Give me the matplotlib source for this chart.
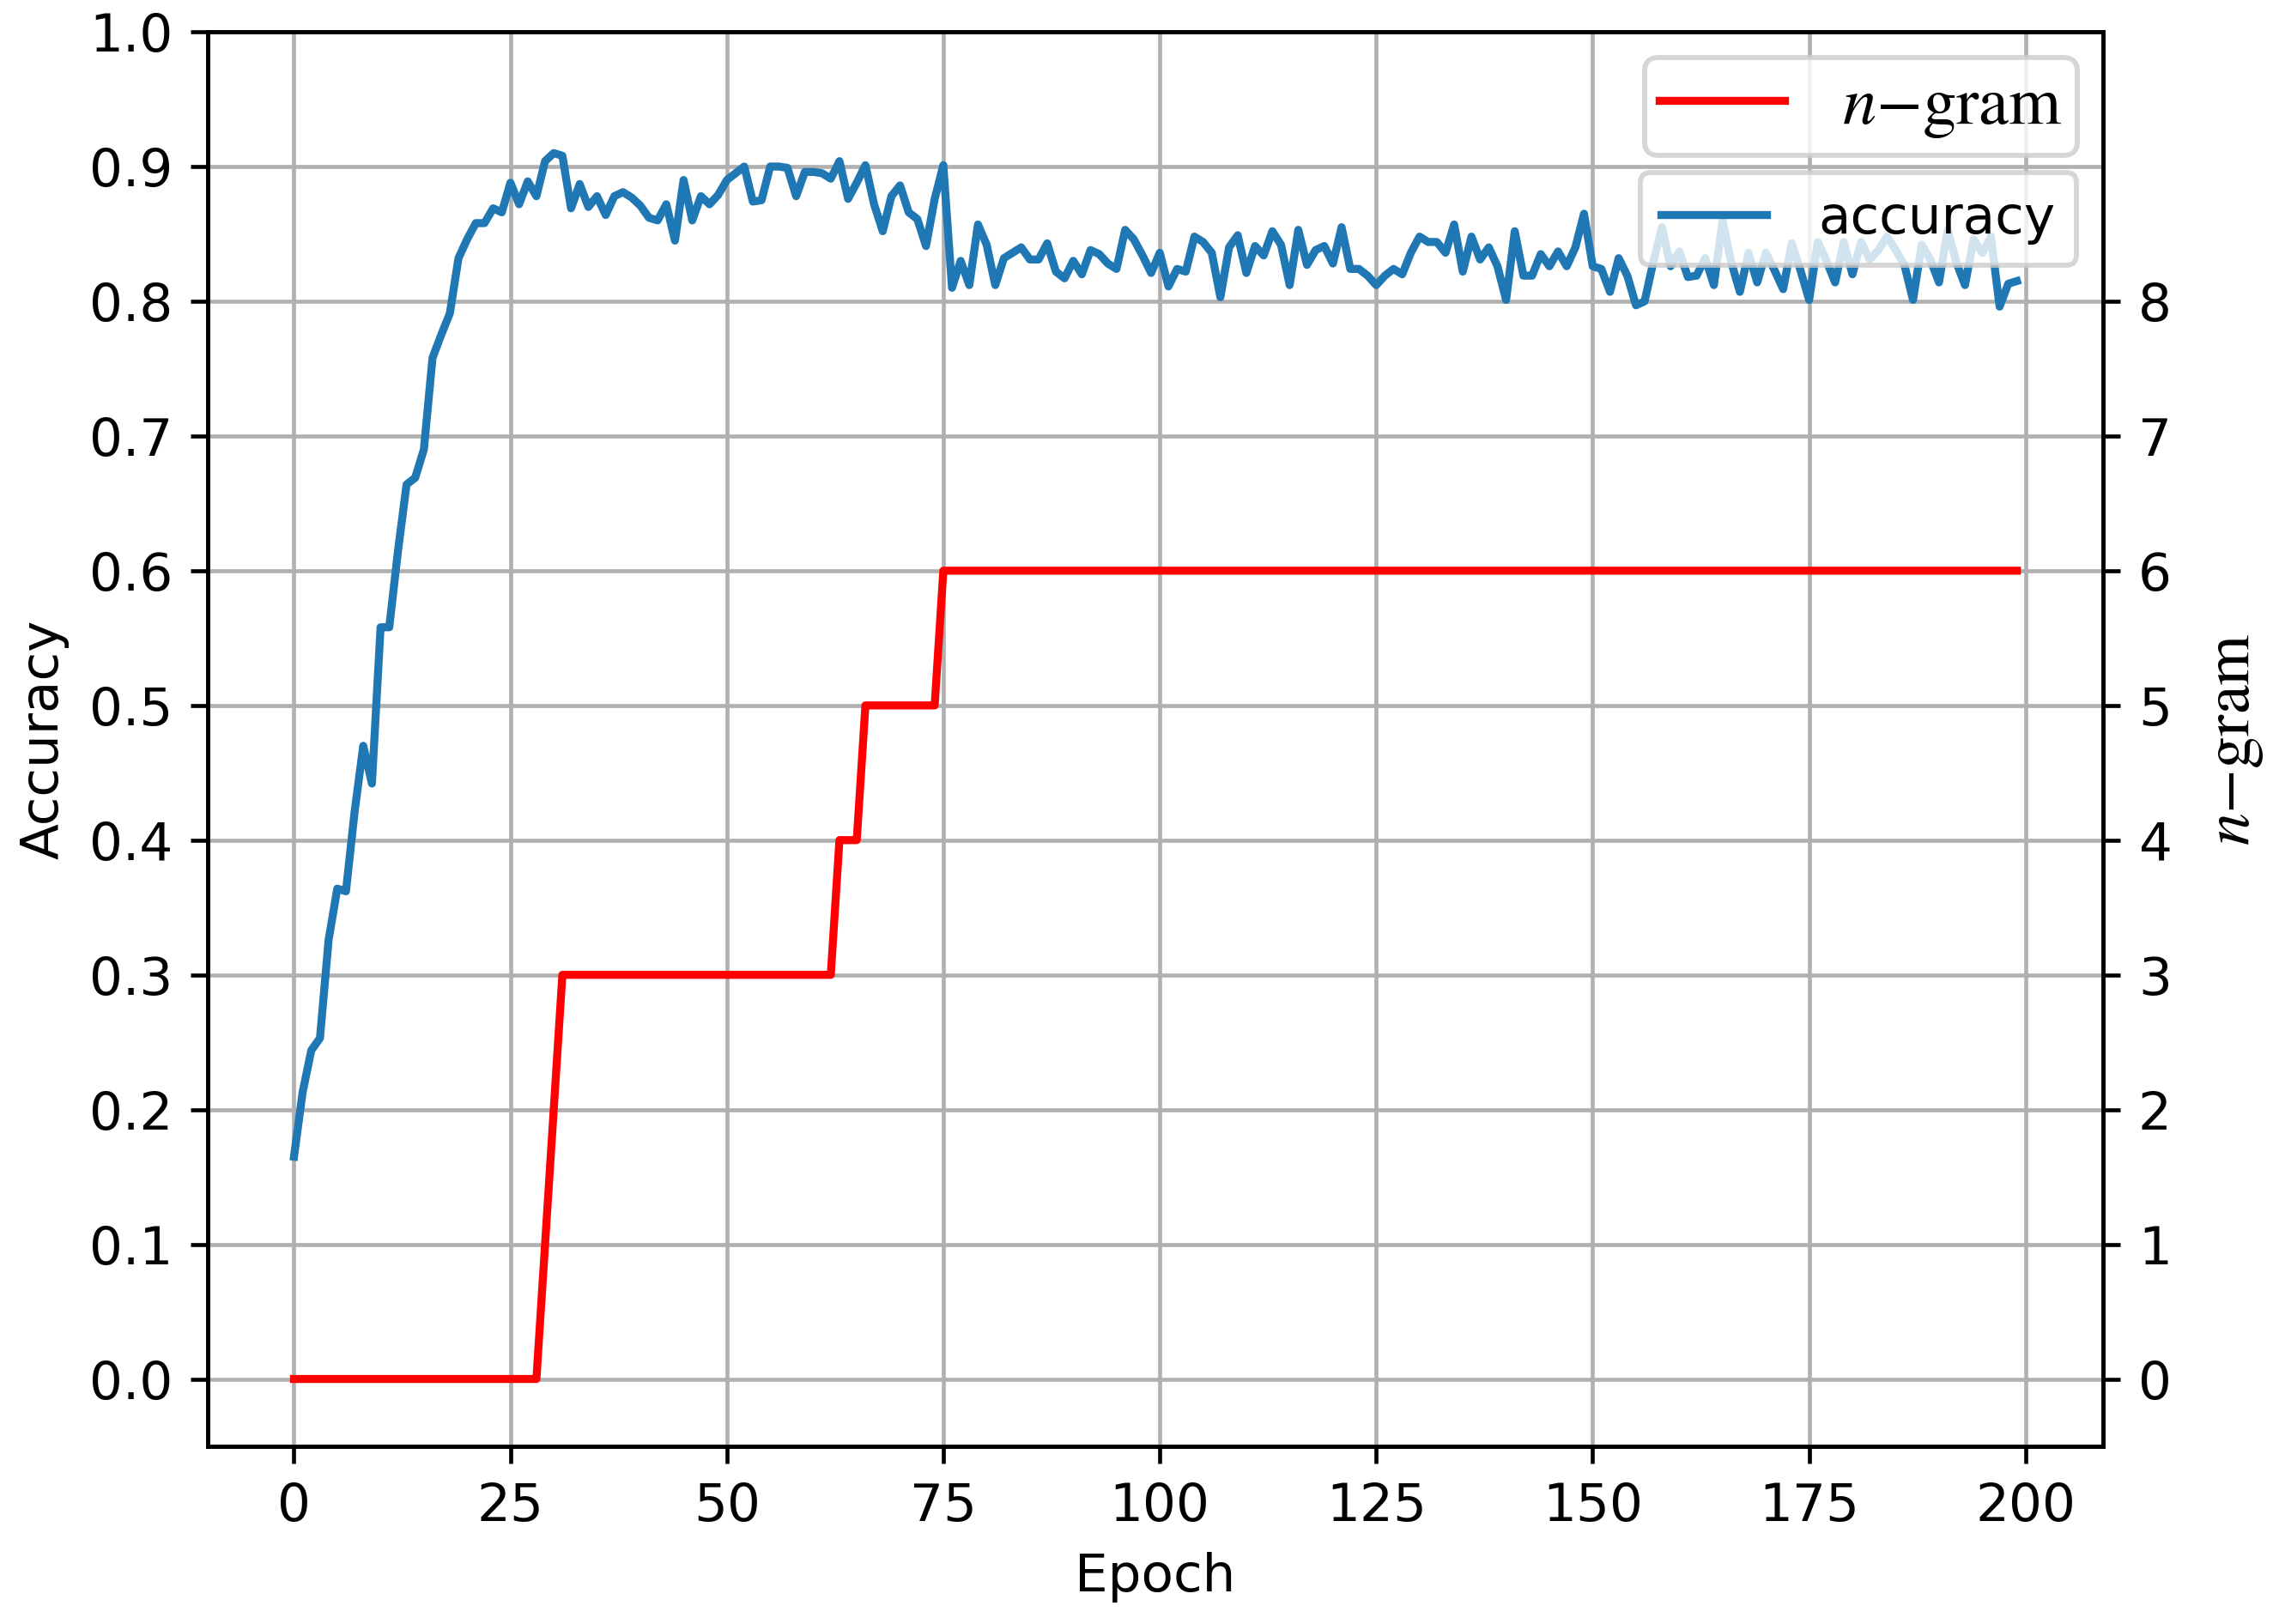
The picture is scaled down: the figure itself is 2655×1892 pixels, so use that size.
import matplotlib
matplotlib.use('Agg')
import matplotlib.pyplot as plt

# accuracy per epoch (0..199)
accuracy = [
    0.165, 0.213, 0.244, 0.253, 0.326, 0.364, 0.362, 0.421, 0.470, 0.442,
    0.558, 0.558, 0.614, 0.664, 0.669, 0.690, 0.758, 0.775, 0.791, 0.832,
    0.846, 0.858, 0.858, 0.869, 0.866, 0.888, 0.872, 0.889, 0.878, 0.904,
    0.910, 0.908, 0.869, 0.887, 0.870, 0.878, 0.864, 0.878, 0.881, 0.877,
    0.871, 0.862, 0.860, 0.872, 0.845, 0.890, 0.860, 0.878, 0.872, 0.879,
    0.890, 0.895, 0.900, 0.874, 0.875, 0.900, 0.900, 0.899, 0.878, 0.896,
    0.896, 0.895, 0.891, 0.904, 0.876, 0.888, 0.901, 0.872, 0.852, 0.878,
    0.886, 0.866, 0.861, 0.841, 0.876, 0.901, 0.810, 0.830, 0.812, 0.857,
    0.842, 0.812, 0.832, 0.836, 0.840, 0.831, 0.831, 0.843, 0.822, 0.817,
    0.830, 0.820, 0.838, 0.835, 0.828, 0.824, 0.853, 0.846, 0.834, 0.821,
    0.836, 0.811, 0.824, 0.822, 0.848, 0.844, 0.836, 0.803, 0.840, 0.849,
    0.821, 0.841, 0.834, 0.852, 0.842, 0.812, 0.853, 0.827, 0.838, 0.841,
    0.828, 0.855, 0.824, 0.824, 0.819, 0.812, 0.819, 0.824, 0.820, 0.836,
    0.848, 0.844, 0.844, 0.836, 0.857, 0.822, 0.848, 0.831, 0.840, 0.826,
    0.801, 0.852, 0.819, 0.819, 0.835, 0.826, 0.837, 0.826, 0.840, 0.865,
    0.826, 0.824, 0.807, 0.832, 0.819, 0.797, 0.800, 0.829, 0.855, 0.826,
    0.837, 0.818, 0.819, 0.832, 0.812, 0.860, 0.829, 0.807, 0.836, 0.814,
    0.836, 0.823, 0.809, 0.843, 0.823, 0.801, 0.844, 0.830, 0.814, 0.844,
    0.820, 0.844, 0.831, 0.838, 0.848, 0.838, 0.827, 0.801, 0.842, 0.831,
    0.814, 0.853, 0.829, 0.812, 0.846, 0.836, 0.848, 0.796, 0.813, 0.815,
]
epochs = list(range(len(accuracy)))

# n-gram size: epochs where it changes and its value there
ngram_epochs = [0, 28, 29, 30, 31, 62, 63, 65, 66, 74, 75, 199]
ngram_values = [0, 0, 1, 2, 3, 3, 4, 4, 5, 5, 6, 6]

plt.rcParams['font.size'] = 10.5
plt.rcParams['mathtext.fontset'] = 'stix'

fig = plt.figure(figsize=(2655 / 420, 1892 / 420), dpi=420)
ax1 = fig.add_subplot(111)
fig.subplots_adjust(left=0.0912, right=0.9228, top=0.9804, bottom=0.1094)

ax1.plot(epochs, accuracy, color='tab:blue', linewidth=1.6, label='accuracy')
ax1.set_ylim(-0.05, 1.0)
ax1.set_yticks([i / 10 for i in range(11)])
ax1.set_xlabel('Epoch')
ax1.set_ylabel('Accuracy')
ax1.grid(True)
ax1.legend(loc='upper right', bbox_to_anchor=(1, 0.919), handletextpad=1.0)

ngram_label = r'$n{-}\mathrm{gram}$'
ax2 = ax1.twinx()
ax2.plot(ngram_epochs, ngram_values, color='red', linewidth=1.6,
         label=ngram_label)
ax2.set_ylim(-0.5, 10.0)
ax2.set_yticks(range(9))
ax2.set_ylabel(ngram_label, fontsize=13, labelpad=6)
ax2.legend(loc='upper right', handletextpad=0.85, fontsize=13.5,
           handlelength=1.85, borderpad=0.22, borderaxespad=0.38)

fig.savefig('out.png', dpi=420)
